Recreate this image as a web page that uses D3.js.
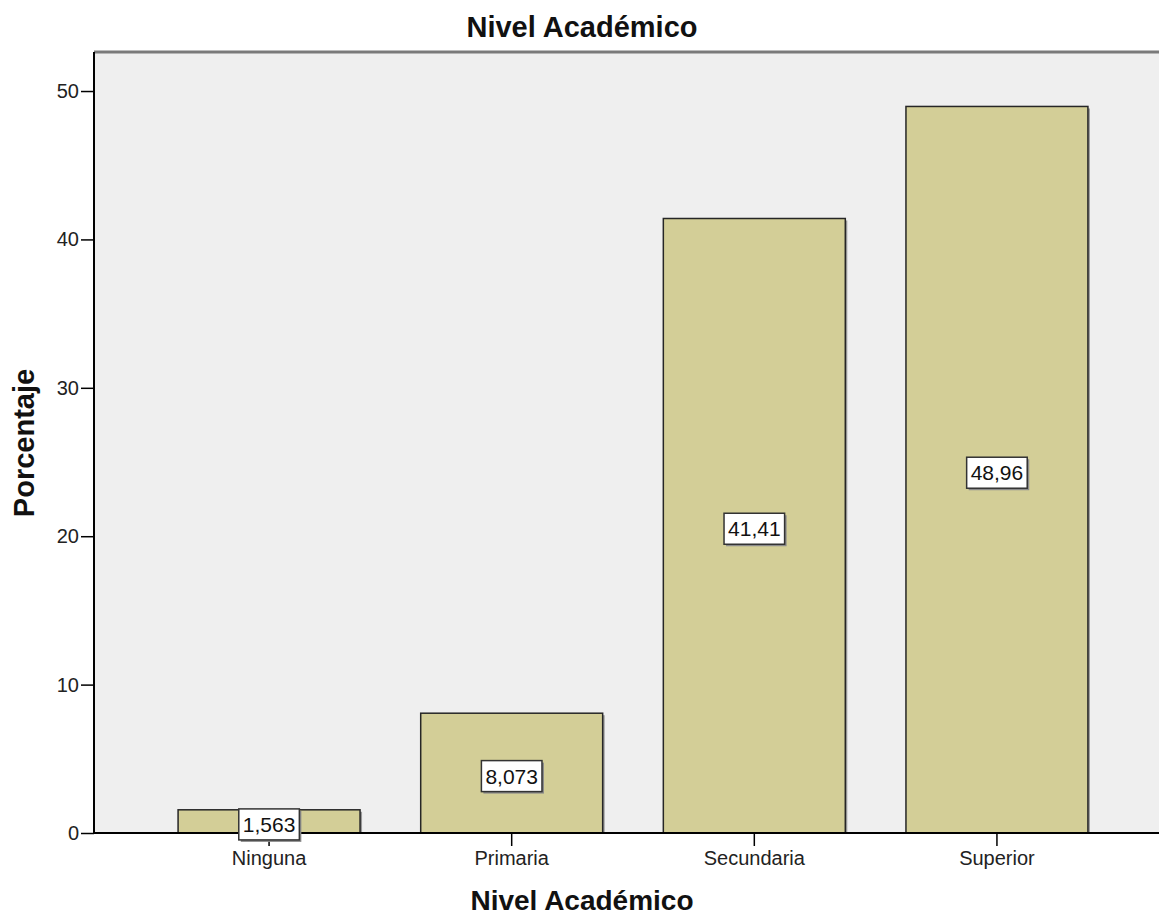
<!DOCTYPE html>
<html>
<head>
<meta charset="utf-8">
<script src="https://cdn.jsdelivr.net/npm/d3@7"></script>
<style>
  html, body { margin: 0; padding: 0; background: #fff; }
  svg { display: block; font-family: "Liberation Sans", Arial, sans-serif; }
</style>
</head>
<body>
<svg id="chart" width="1159" height="916"></svg>
<script>
// Distribución del nivel académico (porcentaje)
const categories = ["Ninguna", "Primaria", "Secundaria", "Superior"];
const percentages = [1.563, 8.073, 41.41, 48.96];
const valueLabels = ["1,563", "8,073", "41,41", "48,96"];
const yTicks = [0, 10, 20, 30, 40, 50];

const W = 1159, H = 916;
const plot = { left: 94, top: 52, right: 1175, bottom: 833 };

const svg = d3.select("#chart");

const x = d3.scaleBand()
  .domain(categories)
  .range([147.75, 1118.25])
  .paddingInner(0.25)
  .paddingOuter(0.125);

const y = d3.scaleLinear()
  .domain([0, 52.63])
  .range([plot.bottom, plot.top]);

// plot background
svg.append("rect")
  .attr("x", plot.left).attr("y", plot.top)
  .attr("width", plot.right - plot.left).attr("height", plot.bottom - plot.top)
  .attr("fill", "#efefef");

// top frame line
svg.append("line")
  .attr("x1", plot.left).attr("x2", plot.right)
  .attr("y1", plot.top).attr("y2", plot.top)
  .attr("stroke", "#7a7a7a").attr("stroke-width", 3);

const data = categories.map((c, i) => ({ cat: c, v: percentages[i], label: valueLabels[i] }));

// bar shadows
svg.append("g").selectAll("rect").data(data).join("rect")
  .attr("x", d => x(d.cat) + 2)
  .attr("y", d => y(d.v) + 2)
  .attr("width", x.bandwidth())
  .attr("height", d => y(0) - y(d.v) - 2)
  .attr("fill", "#9a9a9a");

// bars
svg.append("g").selectAll("rect").data(data).join("rect")
  .attr("x", d => x(d.cat))
  .attr("y", d => y(d.v))
  .attr("width", x.bandwidth())
  .attr("height", d => y(0) - y(d.v))
  .attr("fill", "#d3ce97")
  .attr("stroke", "#262626")
  .attr("stroke-width", 1.5);

// y axis
const yAxis = svg.append("g")
  .attr("transform", `translate(${plot.left},0)`)
  .call(d3.axisLeft(y).tickValues(yTicks).tickSize(13).tickPadding(2).tickSizeOuter(0));
yAxis.select(".domain").attr("stroke", "#000").attr("stroke-width", 2)
  .attr("d", `M0,${plot.top}V${plot.bottom}`);
yAxis.selectAll(".tick line").attr("stroke", "#000").attr("stroke-width", 1.5);
yAxis.selectAll(".tick text")
  .attr("font-size", 20).attr("fill", "#222")
  .attr("font-family", "Liberation Sans, Arial, sans-serif");

// x axis
const xAxis = svg.append("g")
  .attr("transform", `translate(0,${plot.bottom})`)
  .call(d3.axisBottom(x).tickSize(13).tickPadding(5).tickSizeOuter(0));
xAxis.select(".domain").attr("stroke", "#000").attr("stroke-width", 2)
  .attr("d", `M${plot.left},0H${plot.right}`);
xAxis.selectAll(".tick line").attr("stroke", "#000").attr("stroke-width", 1.5);
xAxis.selectAll(".tick text")
  .attr("font-size", 20).attr("fill", "#222")
  .attr("font-family", "Liberation Sans, Arial, sans-serif");

// value labels in boxes at the middle of each bar
const labels = svg.append("g").selectAll("g").data(data).join("g")
  .attr("transform", d => `translate(${x(d.cat) + x.bandwidth() / 2},${y(d.v / 2) + 3})`);
labels.each(function(d) {
  const g = d3.select(this);
  const t = g.append("text")
    .attr("text-anchor", "middle")
    .attr("dy", "0.36em")
    .attr("font-size", 21)
    .attr("fill", "#111")
    .text(d.label);
  const bb = t.node().getBBox();
  const w = bb.width + 8, h = 31;
  g.insert("rect", "text")
    .attr("x", -w / 2 + 2).attr("y", -h / 2 + 2)
    .attr("width", w).attr("height", h)
    .attr("fill", "#8a8a8a");
  g.insert("rect", "text")
    .attr("x", -w / 2).attr("y", -h / 2)
    .attr("width", w).attr("height", h)
    .attr("fill", "#fff")
    .attr("stroke", "#333").attr("stroke-width", 1.5);
});

// titles
svg.append("text")
  .attr("x", 582).attr("y", 37)
  .attr("text-anchor", "middle")
  .attr("font-size", 29).attr("font-weight", "bold").attr("fill", "#111")
  .text("Nivel Académico");

svg.append("text")
  .attr("x", 582).attr("y", 910)
  .attr("text-anchor", "middle")
  .attr("font-size", 28).attr("font-weight", "bold").attr("fill", "#111")
  .text("Nivel Académico");

svg.append("text")
  .attr("transform", "translate(34,443) rotate(-90)")
  .attr("text-anchor", "middle")
  .attr("font-size", 29).attr("font-weight", "bold").attr("fill", "#111")
  .text("Porcentaje");
</script>
</body>
</html>
